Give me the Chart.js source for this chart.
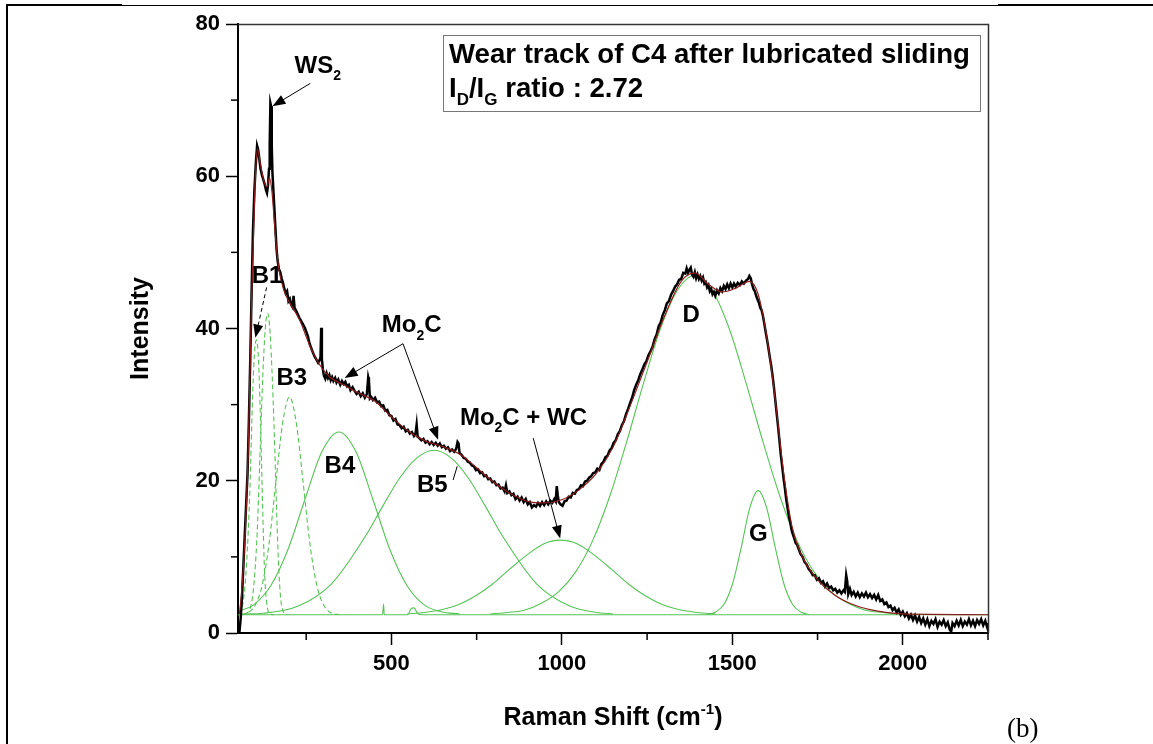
<!DOCTYPE html>
<html>
<head>
<meta charset="utf-8">
<script src="https://cdn.jsdelivr.net/npm/chart.js@4.4.1/dist/chart.umd.min.js"></script>
<style>
html, body { margin: 0; padding: 0; background: #fff; }
#wrap { width: 1153px; height: 744px; position: relative; }
</style>
</head>
<body>
<div id="wrap"><canvas id="raman" width="1153" height="744"></canvas></div>
<script>
// axis ranges and ticks
var xMin = 50, xMax = 2250;
var yMin = 0, yMax = 80;
var xTicks = [250, 500, 750, 1000, 1250, 1500, 1750, 2000, 2250];
var xLabels = [500, 1000, 1500, 2000];
var yTicks = [0, 10, 20, 30, 40, 50, 60, 70, 80];
var yLabels = [0, 20, 40, 60, 80];

// measured spectrum (Raman shift, intensity)
var spectrum = [[54,0],[58,2],[62,5],[66,9],[70,13],[74,17],[78,21],[82,28],[86,36],[90,45],[94,53],[98,58],[102,61.5],[106,64],[109,63.5],[112,62.5],[116,61],[120,60.2],[124,59.6],[128,59],[132,58.2],[135,57.8],[138,58.8],[141,61],[143,64],[145,69.6],[147,69.2],[149,64],[151,60.5],[154,58],[157,55.5],[160,53],[163,50.5],[166,49],[170,47.8],[174,47.4],[178,46.6],[182,46],[186,45.2],[190,44.6],[194,44.9],[198,43.6],[202,43.9],[206,43.1],[210,42.8],[213,44.3],[216,42.7],[220,42.4],[225,41.9],[230,41.4],[235,41],[240,40.6],[246,40.1],[250,39.6],[255,39],[260,38],[265,37.4],[270,36.8],[275,36.3],[280,35.9],[285,35.5],[289,35.8],[292,36.2],[294,40.1],[296,36],[299,34.6],[302,33.8],[306,33.4],[310,34.1],[314,33.5],[318,33.9],[322,33.2],[326,33.6],[330,33.1],[335,33.5],[339,32.9],[344,33.3],[350,32.6],[355,33.1],[360,32.7],[365,33],[370,32.4],[375,32.6],[380,31.9],[386,32.3],[392,31.8],[398,31.4],[404,31.7],[410,31.1],[416,31.5],[422,30.9],[428,31.4],[432,33.6],[434,33.2],[437,30.8],[441,31],[446,30.6],[452,30.9],[458,30.3],[464,30.4],[470,29.8],[476,29.9],[482,29.2],[488,29.3],[494,28.6],[500,28.5],[506,27.9],[512,28.1],[518,27.4],[524,27.3],[530,26.9],[536,27.1],[542,26.5],[548,26.7],[554,26.2],[560,26.4],[566,25.9],[571,26.3],[574,27.4],[577,25.8],[582,25.6],[588,25.3],[594,25.5],[600,25],[606,25.2],[612,24.8],[618,25.1],[624,24.7],[630,25],[636,24.6],[642,24.9],[648,24.4],[654,24.6],[660,24.2],[666,24.4],[672,23.9],[678,24.1],[684,23.8],[690,24.2],[694,25.1],[697,24.9],[700,23.6],[706,23.4],[712,23],[718,22.9],[724,22.5],[730,22.4],[736,22],[742,21.9],[748,21.4],[754,21.5],[760,21],[766,21.1],[772,20.6],[778,20.7],[784,20.2],[790,20.3],[796,19.8],[802,19.9],[808,19.4],[814,19.5],[820,19],[826,19.1],[832,18.6],[836,19.4],[840,18.4],[846,18.6],[852,18.1],[858,18.3],[864,17.6],[870,17.9],[876,17.4],[882,17.8],[888,17.2],[894,17.6],[900,16.9],[906,17.2],[912,16.5],[918,16.8],[924,16.6],[930,17.1],[936,16.7],[942,17.2],[948,16.8],[954,17.3],[960,16.9],[966,17.4],[972,17.1],[978,17.6],[982,17.3],[985,19.3],[988,18.1],[991,17.2],[996,16.9],[1002,16.7],[1008,17.3],[1014,17.4],[1020,17.9],[1026,17.8],[1032,18.4],[1038,18.3],[1044,18.8],[1050,18.9],[1056,19.4],[1062,19.3],[1068,19.9],[1074,20],[1080,20.4],[1086,20.6],[1092,21],[1098,21.1],[1104,21.6],[1110,21.4],[1116,22.2],[1122,22.5],[1128,23.1],[1134,23.3],[1140,24],[1146,24.3],[1152,25],[1158,25.3],[1164,26.1],[1170,26.5],[1176,27.3],[1182,27.8],[1188,28.7],[1194,29.4],[1200,30.2],[1206,30.9],[1212,31.9],[1218,32.6],[1224,33.2],[1230,34],[1236,34.6],[1242,35.3],[1248,35.7],[1254,36.5],[1260,37],[1266,37.6],[1272,38.6],[1278,39.2],[1284,40.3],[1290,40.8],[1296,41.8],[1302,42.4],[1308,43.3],[1314,43.6],[1320,44.4],[1326,44.9],[1332,45.5],[1338,45.8],[1344,46.4],[1350,46.5],[1356,47.3],[1362,47.2],[1366,47.9],[1370,47.3],[1374,47.7],[1378,48],[1382,47.1],[1386,46.8],[1390,47.4],[1394,46.6],[1398,47.1],[1402,46.5],[1406,46.9],[1410,46.3],[1414,46.7],[1418,45.9],[1422,46.1],[1426,45.4],[1430,45.7],[1434,44.9],[1438,45.2],[1442,44.5],[1446,44.8],[1450,44.3],[1455,45],[1460,44.6],[1465,45.3],[1470,44.9],[1475,45.6],[1480,45.2],[1485,45.8],[1490,45.3],[1495,45.9],[1500,45.4],[1505,45.9],[1510,45.5],[1516,46],[1522,45.7],[1528,46.2],[1534,45.9],[1540,46.3],[1546,46.5],[1550,46.9],[1554,46.6],[1558,45.8],[1562,45.2],[1566,44.9],[1570,44.3],[1574,43.8],[1578,43.4],[1582,42.7],[1586,42.4],[1590,41.6],[1594,40.6],[1598,39.5],[1602,38.5],[1606,37.4],[1610,36.2],[1614,35.1],[1618,33.8],[1622,32.3],[1626,30.6],[1630,28.9],[1634,27.2],[1638,25.4],[1642,23.5],[1646,22],[1650,20.4],[1654,19.1],[1658,17.6],[1662,16.4],[1666,15.3],[1670,14.5],[1674,13.5],[1678,12.9],[1682,12.4],[1686,11.8],[1690,11.6],[1695,11],[1700,10.4],[1706,10],[1712,9.3],[1718,9],[1724,8.4],[1730,8.1],[1736,7.6],[1742,7.6],[1748,7],[1754,7.2],[1760,6.6],[1766,6.8],[1772,6.1],[1778,6.5],[1784,5.9],[1790,6.1],[1796,5.6],[1802,5.8],[1808,5.3],[1814,5.6],[1820,5.2],[1826,5.6],[1830,5.4],[1834,7.6],[1837,6.8],[1840,5.1],[1845,5.8],[1850,5],[1856,5.4],[1862,4.8],[1868,5.3],[1874,4.7],[1880,5.2],[1886,4.8],[1892,5.3],[1898,4.7],[1904,5.1],[1910,4.6],[1916,5],[1922,4.4],[1928,5],[1934,4.2],[1940,4.4],[1946,3.8],[1952,4],[1958,3.4],[1964,3.6],[1970,3],[1976,3.3],[1982,2.7],[1988,3.1],[1994,2.4],[2000,2.8],[2006,2.2],[2012,2.6],[2018,1.9],[2024,2.4],[2030,1.7],[2036,2.3],[2042,1.5],[2048,2.1],[2054,1.3],[2060,1.9],[2066,1.1],[2072,1.8],[2078,0.9],[2084,1.6],[2090,1.2],[2096,1.8],[2102,0.8],[2108,1.5],[2114,1.1],[2120,1.7],[2126,0.9],[2132,1.4],[2138,0.4],[2142,0.2],[2146,1.3],[2152,0.9],[2158,1.6],[2164,1],[2170,1.7],[2176,0.9],[2182,1.5],[2188,1.1],[2194,1.8],[2200,1],[2206,1.6],[2212,0.9],[2218,1.7],[2224,1.2],[2230,1.8],[2236,1],[2242,1.6],[2248,0.7],[2250,1.3]];

// cumulative fit
var fitSum = [[54,2.5],[60,5],[70,12],[80,24],[90,44],[100,59],[107,63.6],[115,61.8],[125,59.5],[135,58.6],[142,59.8],[150,57.8],[160,52],[170,47.8],[185,45],[200,43.5],[230,41.2],[260,37.8],[290,35.2],[320,33.6],[360,32.6],[400,31.6],[450,30.5],[500,28.4],[550,26.5],[600,25.2],[650,24.5],[700,23.5],[750,21.7],[800,19.8],[850,18.3],[900,17.3],[950,17.1],[1000,17.5],[1050,18.8],[1100,20.9],[1150,24.4],[1200,29.8],[1250,35.6],[1300,41.5],[1350,46.2],[1390,47.3],[1430,45.8],[1470,44.8],[1510,45.3],[1550,46.2],[1575,44.6],[1600,39.2],[1625,31],[1650,21.2],[1675,14],[1700,10.5],[1750,7],[1800,5],[1850,3.8],[1900,3.1],[1950,2.7],[2000,2.5],[2250,2.4]];

// fitted components
var baseLine = [[50,2.4],[474,2.4],[477,3.8],[479,2.4],[548,2.4],[558,3.2],[566,3.3],[578,2.5],[590,2.4],[2250,2.4]];
var peakB1a = [[55,2.4],[65,4],[75,9],[85,19],[92,30],[98,36.5],[104,38.5],[110,36],[116,28],[122,17],[128,8],[134,4],[142,2.6],[155,2.4]];
var peakB1b = [[70,2.4],[90,4],[105,12],[115,24],[123,34],[130,40],[137,42],[144,39.5],[151,33],[158,24],[164,15],[170,8],[176,4.2],[184,2.7],[195,2.4]];
var peakB3 = [[60,2.4],[81,2.7],[101,3.7],[121,6.3],[141,11.7],[161,19.8],[181,27.6],[201,31],[221,27.6],[241,19.8],[261,11.7],[281,6.3],[301,3.7],[321,2.7],[350,2.4]];
var peakB4 = [[54,2.9],[96,3.7],[146,6.2],[196,10.9],[246,17.5],[296,23.8],[346,26.4],[396,23.8],[446,17.5],[496,10.9],[546,6.2],[596,3.7],[646,2.8],[700,2.5]];
var peakB5 = [[54,2.5],[125,2.6],[225,3.5],[325,6.5],[425,12.8],[475,16.7],[525,20.4],[575,23],[625,24],[675,23],[725,20.4],[775,16.7],[825,12.8],[925,6.5],[1025,3.5],[1100,2.7],[1150,2.5]];
var peakMoWC = [[546,2.5],[596,2.7],[646,3.05],[696,3.7],[746,4.85],[796,6.4],[846,8.35],[896,10.2],[946,11.7],[996,12.2],[1046,11.7],[1096,10.2],[1146,8.35],[1196,6.4],[1246,4.85],[1296,3.7],[1346,3.05],[1396,2.7],[1450,2.5]];
var peakD = [[790,2.5],[840,2.7],[890,3],[940,3.9],[990,5.4],[1040,8],[1090,12.1],[1140,17.9],[1190,25.1],[1240,32.9],[1290,40.1],[1340,45.1],[1390,47],[1440,45.1],[1490,40.1],[1540,32.9],[1590,25.1],[1640,17.9],[1690,12.1],[1740,8],[1790,5.4],[1840,3.9],[1890,3],[1940,2.7],[1990,2.5]];
var peakG = [[1426,2.4],[1451,2.75],[1476,3.8],[1501,6.5],[1526,11.2],[1551,16.4],[1576,18.7],[1601,16.4],[1626,11.2],[1651,6.5],[1676,3.8],[1701,2.75],[1726,2.4]];

var sans = "'Liberation Sans', Arial, Helvetica, sans-serif";
var green = '#55c455';

function toPoints(arr) {
    return arr.map(function (p) { return { x: p[0], y: p[1] }; });
}

function component(arr, dashed) {
    return {
        data: toPoints(arr),
        borderColor: green,
        borderWidth: 1.1,
        borderDash: dashed ? [5, 3] : [],
        pointRadius: 0,
        fill: false,
        cubicInterpolationMode: 'monotone'
    };
}

// text with optional sub/superscript pieces, left edge at px
function subText(ctx, px, py, parts, size) {
    var x = px;
    parts.forEach(function (p) {
        if (p.sub) {
            ctx.font = 'bold ' + Math.round(size * 0.6) + 'px ' + sans;
            ctx.fillText(p.t, x, py + size * 0.3);
        } else if (p.sup) {
            ctx.font = 'bold ' + Math.round(size * 0.6) + 'px ' + sans;
            ctx.fillText(p.t, x, py - size * 0.45);
        } else {
            ctx.font = 'bold ' + size + 'px ' + sans;
            ctx.fillText(p.t, x, py);
        }
        x += ctx.measureText(p.t).width;
    });
    return x - px;
}

function arrow(ctx, x1, y1, x2, y2, dashed) {
    var ang = Math.atan2(y2 - y1, x2 - x1);
    var head = 13, half = 5;
    ctx.save();
    ctx.strokeStyle = '#000';
    ctx.fillStyle = '#000';
    ctx.lineWidth = 1;
    if (dashed) ctx.setLineDash([4, 3]);
    ctx.beginPath();
    ctx.moveTo(x1, y1);
    ctx.lineTo(x2 - Math.cos(ang) * head * 0.8, y2 - Math.sin(ang) * head * 0.8);
    ctx.stroke();
    ctx.setLineDash([]);
    ctx.beginPath();
    ctx.moveTo(x2, y2);
    ctx.lineTo(x2 - Math.cos(ang) * head - Math.sin(ang) * half, y2 - Math.sin(ang) * head + Math.cos(ang) * half);
    ctx.lineTo(x2 - Math.cos(ang) * head + Math.sin(ang) * half, y2 - Math.sin(ang) * head - Math.cos(ang) * half);
    ctx.closePath();
    ctx.fill();
    ctx.restore();
}

var decorations = {
    id: 'decorations',
    afterDraw: function (chart) {
        var ctx = chart.ctx;
        var xs = chart.scales.x, ys = chart.scales.y;
        var area = chart.chartArea;
        var X = function (v) { return xs.getPixelForValue(v); };
        var Y = function (v) { return ys.getPixelForValue(v); };

        ctx.save();
        // frame top and right
        ctx.strokeStyle = '#333';
        ctx.lineWidth = 1.5;
        ctx.beginPath();
        ctx.moveTo(area.left, area.top + 0.5);
        ctx.lineTo(area.right + 0.5, area.top + 0.5);
        ctx.lineTo(area.right + 0.5, area.bottom);
        ctx.stroke();

        // minor ticks
        ctx.strokeStyle = '#000';
        ctx.lineWidth = 1.5;
        xTicks.forEach(function (v) {
            if (xLabels.indexOf(v) >= 0) return;
            ctx.beginPath();
            ctx.moveTo(X(v), area.bottom);
            ctx.lineTo(X(v), area.bottom + 7);
            ctx.stroke();
        });
        yTicks.forEach(function (v) {
            if (yLabels.indexOf(v) >= 0) return;
            ctx.beginPath();
            ctx.moveTo(area.left, Y(v));
            ctx.lineTo(area.left - 7, Y(v));
            ctx.stroke();
        });

        // border of the figure cell
        ctx.lineWidth = 2;
        ctx.beginPath();
        ctx.moveTo(7, 744);
        ctx.lineTo(7, 5);
        ctx.lineTo(122, 5);
        ctx.moveTo(998, 5);
        ctx.lineTo(1153, 5);
        ctx.stroke();
        ctx.lineWidth = 1;
        ctx.beginPath();
        ctx.moveTo(122, 5.5);
        ctx.lineTo(998, 5.5);
        ctx.stroke();

        // axis titles
        ctx.fillStyle = '#000';
        ctx.textBaseline = 'alphabetic';
        ctx.save();
        ctx.translate(148, (area.top + area.bottom) / 2);
        ctx.rotate(-Math.PI / 2);
        ctx.font = 'bold 25px ' + sans;
        ctx.textAlign = 'center';
        ctx.fillText('Intensity', 0, 0);
        ctx.restore();

        ctx.textAlign = 'left';
        var xt = [{ t: 'Raman Shift (cm' }, { t: '-1', sup: true }, { t: ')' }];
        ctx.globalAlpha = 0;
        var w = subText(ctx, 0, -100, xt, 25);
        ctx.globalAlpha = 1;
        subText(ctx, (area.left + area.right) / 2 - w / 2, 725, xt, 25);

        // info box
        ctx.strokeStyle = '#777';
        ctx.lineWidth = 1;
        ctx.fillStyle = '#fff';
        ctx.fillRect(443, 35, 537, 76);
        ctx.strokeRect(443.5, 35.5, 537, 76);
        ctx.fillStyle = '#000';
        subText(ctx, 449, 63, [{ t: 'Wear track of C4 after lubricated sliding' }], 27.6);
        subText(ctx, 449, 97, [{ t: 'I' }, { t: 'D', sub: true }, { t: '/I' }, { t: 'G', sub: true }, { t: ' ratio : 2.72' }], 27.6);

        // peak labels
        subText(ctx, X(216), Y(73.6), [{ t: 'WS' }, { t: '2', sub: true }], 24);
        arrow(ctx, X(262), Y(72.2), X(151), Y(69.2), false);

        subText(ctx, X(90), Y(46), [{ t: 'B1' }], 24);
        arrow(ctx, X(134), Y(45.4), X(101), Y(38.8), true);

        subText(ctx, X(163), Y(32.6), [{ t: 'B3' }], 24);
        subText(ctx, X(304), Y(21), [{ t: 'B4' }], 24);
        subText(ctx, X(575), Y(18.5), [{ t: 'B5' }], 24);
        ctx.strokeStyle = '#000';
        ctx.lineWidth = 1;
        ctx.beginPath();
        ctx.moveTo(X(681), Y(20.1));
        ctx.lineTo(X(693), Y(21.9));
        ctx.stroke();

        subText(ctx, X(472), Y(39.5), [{ t: 'Mo' }, { t: '2', sub: true }, { t: 'C' }], 24);
        arrow(ctx, X(534), Y(38), X(363), Y(33.5), false);
        arrow(ctx, X(534), Y(38), X(637), Y(25.4), false);

        subText(ctx, X(701), Y(27.3), [{ t: 'Mo' }, { t: '2', sub: true }, { t: 'C + WC' }], 24);
        arrow(ctx, X(916), Y(25.6), X(995), Y(12.4), false);

        subText(ctx, X(1354), Y(40.9), [{ t: 'D' }], 24);
        subText(ctx, X(1549), Y(12.1), [{ t: 'G' }], 24);

        // panel tag
        ctx.font = "27px 'Liberation Serif', 'Times New Roman', serif";
        ctx.fillText('(b)', 1007, 737);
        ctx.restore();
    }
};

var ctx = document.getElementById('raman').getContext('2d');
new Chart(ctx, {
    type: 'line',
    data: {
        datasets: [
            {
                data: toPoints(fitSum),
                borderColor: '#8b1e1e',
                borderWidth: 1.2,
                pointRadius: 0,
                fill: false,
                cubicInterpolationMode: 'monotone'
            },
            {
                data: toPoints(spectrum),
                borderColor: '#000',
                borderWidth: 2.5,
                pointRadius: 0,
                fill: false,
                tension: 0
            },
            component(baseLine, false),
            component(peakB1a, true),
            component(peakB1b, true),
            component(peakB3, true),
            component(peakB4, false),
            component(peakB5, false),
            component(peakMoWC, false),
            component(peakD, false),
            component(peakG, false)
        ]
    },
    options: {
        responsive: false,
        devicePixelRatio: 1,
        animation: false,
        layout: { padding: { left: 0, top: 24, right: 165, bottom: 0 } },
        plugins: {
            legend: { display: false },
            tooltip: { enabled: false }
        },
        scales: {
            x: {
                type: 'linear',
                min: xMin,
                max: xMax,
                afterFit: function (s) { s.height = 111; },
                afterBuildTicks: function (s) { s.ticks = xTicks.map(function (v) { return { value: v }; }); },
                ticks: {
                    autoSkip: false,
                    maxRotation: 0,
                    padding: 6,
                    color: '#000',
                    font: { family: sans, size: 22, weight: 'bold' },
                    callback: function (v) { return xLabels.indexOf(v) >= 0 ? String(v) : ''; }
                },
                grid: {
                    drawOnChartArea: false,
                    tickLength: 12,
                    tickWidth: 1.5,
                    tickColor: function (c) { return xLabels.indexOf(c.tick && c.tick.value) >= 0 ? '#000' : 'rgba(0,0,0,0)'; }
                },
                border: { color: '#000', width: 2 }
            },
            y: {
                min: yMin,
                max: yMax,
                afterFit: function (s) { s.width = 238; },
                afterBuildTicks: function (s) { s.ticks = yTicks.map(function (v) { return { value: v }; }); },
                ticks: {
                    padding: 6,
                    color: '#000',
                    font: { family: sans, size: 22, weight: 'bold' },
                    callback: function (v) { return yLabels.indexOf(v) >= 0 ? String(v) : ''; }
                },
                grid: {
                    drawOnChartArea: false,
                    tickLength: 12,
                    tickWidth: 1.5,
                    tickColor: function (c) { return yLabels.indexOf(c.tick && c.tick.value) >= 0 ? '#000' : 'rgba(0,0,0,0)'; }
                },
                border: { color: '#000', width: 2 }
            }
        }
    },
    plugins: [decorations]
});
</script>
</body>
</html>
